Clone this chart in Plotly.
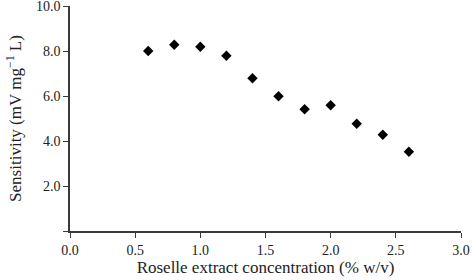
import plotly.graph_objects as go

concentration = [0.6, 0.8, 1.0, 1.2, 1.4, 1.6, 1.8, 2.0, 2.2, 2.4, 2.6]
sensitivity = [8.0, 8.28, 8.19, 7.79, 6.79, 5.99, 5.41, 5.59, 4.77, 4.28, 3.52]

x_ticks = [0.0, 0.5, 1.0, 1.5, 2.0, 2.5, 3.0]
x_labels = ["0.0", "0.5", "1.0", "1.5", "2.0", "2.5", "3.0"]
y_ticks = [0, 2, 4, 6, 8, 10]
y_labels = ["", "2.0", "4.0", "6.0", "8.0", "10.0"]

font_family = "Liberation Serif, Times New Roman, serif"
axis_color = "#3a3a3a"

fig = go.Figure(go.Scatter(
    x=concentration, y=sensitivity, mode="markers",
    marker=dict(symbol="diamond", size=8, color="black"),
    showlegend=False, cliponaxis=False,
))

fig.update_layout(
    width=472, height=280,
    margin=dict(l=70, r=11, t=6, b=49, autoexpand=False),
    paper_bgcolor="white", plot_bgcolor="white",
    font=dict(family=font_family, size=14, color="#222"),
)
fig.update_xaxes(
    range=[0, 3], tickvals=x_ticks, ticktext=x_labels,
    showline=True, linecolor=axis_color, linewidth=1.5,
    ticks="outside", ticklen=5, tickcolor=axis_color,
    showgrid=False, zeroline=False, automargin=False,
    ticklabeloverflow="allow",
    title=dict(text="Roselle extract concentration (% w/v)", standoff=4),
)
fig.update_yaxes(
    range=[0, 10], tickvals=y_ticks, ticktext=y_labels,
    showline=True, linecolor=axis_color, linewidth=1.5,
    ticks="outside", ticklen=5, tickcolor=axis_color,
    showgrid=False, zeroline=False, automargin=False,
    ticklabeloverflow="allow",
    title=dict(text="Sensitivity (mV mg<sup>−1</sup> L)", standoff=10),
)

fig.write_html("out.html", config={"displayModeBar": False},
               post_script="document.body.style.margin='0';")
